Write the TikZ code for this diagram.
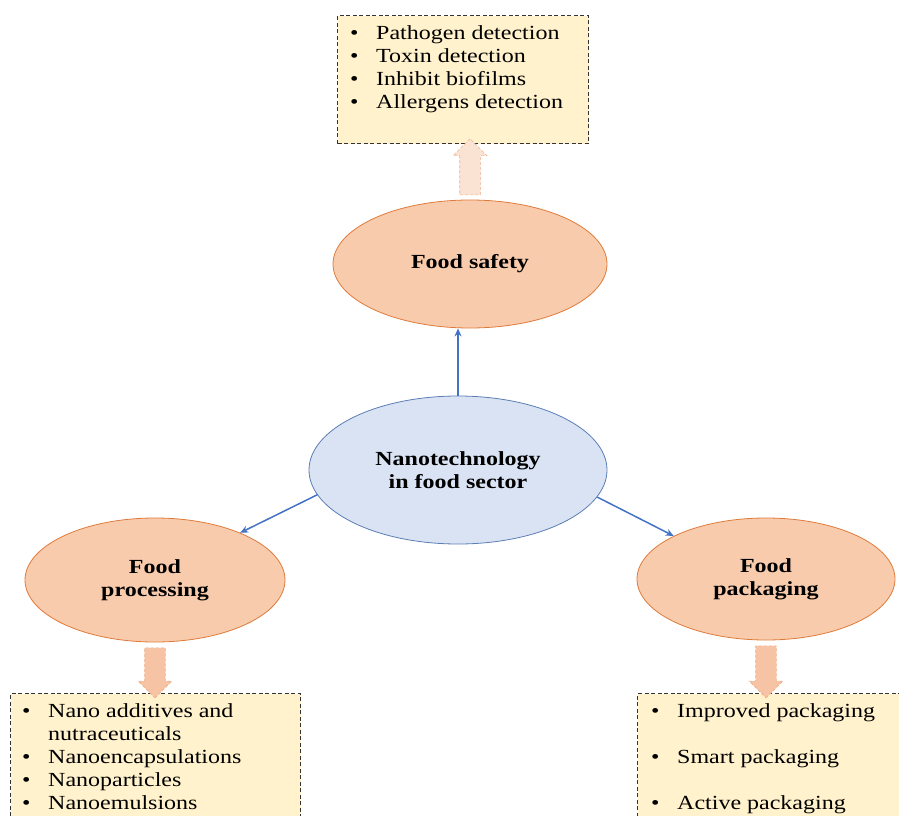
\documentclass[tikz,border=0pt]{standalone}
\usepackage{fontspec}
\setmainfont{Liberation Serif}[FakeStretch=1.2]
\usetikzlibrary{shapes.geometric,shapes.arrows,calc,arrows.meta}
\definecolor{boxfill}{HTML}{FFF2CC}
\definecolor{boxline}{HTML}{333333}
\definecolor{topicfill}{HTML}{F8CBAD}
\definecolor{topicline}{HTML}{DF7B3A}
\definecolor{mainfill}{HTML}{DAE3F3}
\definecolor{mainline}{HTML}{5B7DB5}
\definecolor{linkblue}{HTML}{4472C4}
\definecolor{fatpale}{HTML}{FBE3D4}
\definecolor{fatfill}{HTML}{F6C4A4}
\definecolor{fatline}{HTML}{EFAE8A}
\newcommand{\itm}{\makebox[26pt][l]{\textbullet}}
\begin{document}
\begin{tikzpicture}[x=1pt,y=-1pt]
	\useasboundingbox (0,0) rectangle (899,816);
	\clip (0,0) rectangle (899,816);
	\tikzstyle{hub}=[ellipse, draw=mainline, fill=mainfill, line width=0.8pt, inner sep=0pt, align=center, font=\bfseries\fontsize{20}{23}\selectfont]
	\tikzstyle{topic}=[ellipse, draw=topicline, fill=topicfill, line width=0.8pt, inner sep=0pt, align=center, font=\bfseries\fontsize{20}{23}\selectfont]
	\tikzstyle{listbox}=[rectangle, draw=boxline, fill=boxfill, dash pattern=on 4pt off 2.5pt, line width=1.3pt, inner sep=0pt, anchor=north west]
	\tikzstyle{listtext}=[inner sep=0pt, align=left, anchor=north west, font=\fontsize{20}{23}\selectfont]
	\tikzstyle{fat}=[single arrow, draw=fatline, densely dashed, line width=0.6pt, inner sep=10pt, single arrow head extend=6.5pt, minimum width=33pt]

	\node[hub, minimum width=298, minimum height=148] 	(centre) at (458,470) {Nanotechnology\\in food sector};
	\node[topic, minimum width=274, minimum height=128] (safety) at (470,264) {Food safety};
	\node[topic, minimum width=260, minimum height=124] (processing) at (155,580) {Food\\processing};
	\node[topic, minimum width=258, minimum height=122] (packaging) at (766,579) {Food\\packaging};

	\node[listbox, minimum width=251, minimum height=128] (safetybox) at (337,15) {};
	\node[listbox, minimum width=290, minimum height=140] (processingbox) at (10,693) {};
	\node[listbox, minimum width=280, minimum height=140] (packagingbox) at (637,693) {};

	\node[listtext] (safetylist) at (350,25) {\itm Pathogen detection\\ \itm Toxin detection\\ \itm Inhibit biofilms\\ \itm Allergens detection};
	\node[listtext] (processinglist) at (22,703) {\itm Nano additives and\\ \makebox[26pt]{}nutraceuticals\\ \itm Nanoencapsulations\\ \itm Nanoparticles\\ \itm Nanoemulsions};
	\node[listtext] (packaginglist) at (651,703) {\itm Improved packaging\\[23pt] \itm Smart packaging\\[23pt] \itm Active packaging};

	\node[fat, fill=fatpale, rotate=90, minimum height=56] at ($(safety.north)!0.5!(safety.north |- safetybox.south)$) {};
	\node[fat, fill=fatfill, rotate=-90, minimum height=50] at ($(processing.south)!0.5!(processing.south |- processingbox.north)$) {};
	\node[fat, fill=fatfill, rotate=-90, minimum height=52] at ($(packaging.south)!0.5!(packaging.south |- packagingbox.north)$) {};

	\begin{scope}[-{Stealth[length=8pt,width=7pt]}, draw=linkblue, line width=1.5pt]
		\draw	(centre.north) -- (centre.north |- safety.south);
		\draw	(centre.190) -- (processing.29);
		\draw	(centre.349) -- (packaging.155);
	\end{scope}
\end{tikzpicture}
\end{document}
